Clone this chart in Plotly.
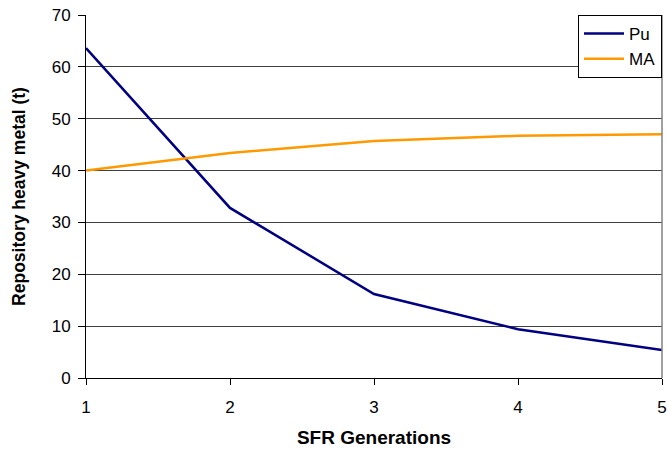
import plotly.graph_objects as go

generations = [1, 2, 3, 4, 5]
pu = [63.6, 32.8, 16.2, 9.4, 5.4]
ma = [40.0, 43.4, 45.7, 46.7, 47.0]

fig = go.Figure()
fig.add_trace(go.Scatter(x=generations, y=pu, mode="lines", name="Pu",
                         line=dict(color="#000080", width=2.5)))
fig.add_trace(go.Scatter(x=generations, y=ma, mode="lines", name="MA",
                         line=dict(color="#FF9900", width=2.5)))

font = "Liberation Sans, Arial, sans-serif"
fig.update_layout(
    width=668, height=451,
    margin=dict(l=86, r=6, t=15, b=73),
    paper_bgcolor="white", plot_bgcolor="white",
    font=dict(family=font, size=17, color="black"),
    showlegend=True,
    legend=dict(x=1, y=1, xanchor="right", yanchor="top",
                bordercolor="black", borderwidth=1, bgcolor="white",
                font=dict(size=17), tracegroupgap=0, itemwidth=40),
    xaxis=dict(range=[1, 5], tickvals=generations, ticks="outside", ticklen=6,
               tickcolor="black", showline=True, linecolor="black", linewidth=1,
               showgrid=False, zeroline=False, mirror=False, automargin=False,
               ticklabelstandoff=8,
               title=dict(text="<b>SFR Generations</b>", font=dict(size=19), standoff=14)),
    yaxis=dict(range=[0, 70], dtick=10, ticks="outside", ticklen=7,
               tickcolor="black", showline=True, linecolor="black", linewidth=1,
               showgrid=True, gridcolor="#404040", gridwidth=1, zeroline=False,
               automargin=False, ticklabelstandoff=4,
               title=dict(text="<b>Repository heavy metal (t)</b>", font=dict(size=17.5), standoff=21)),
)
# right border of plot area
fig.add_shape(type="line", xref="paper", yref="paper", x0=1, x1=1, y0=0, y1=1,
              line=dict(color="#808080", width=1.5))

fig.write_html("out.html")
